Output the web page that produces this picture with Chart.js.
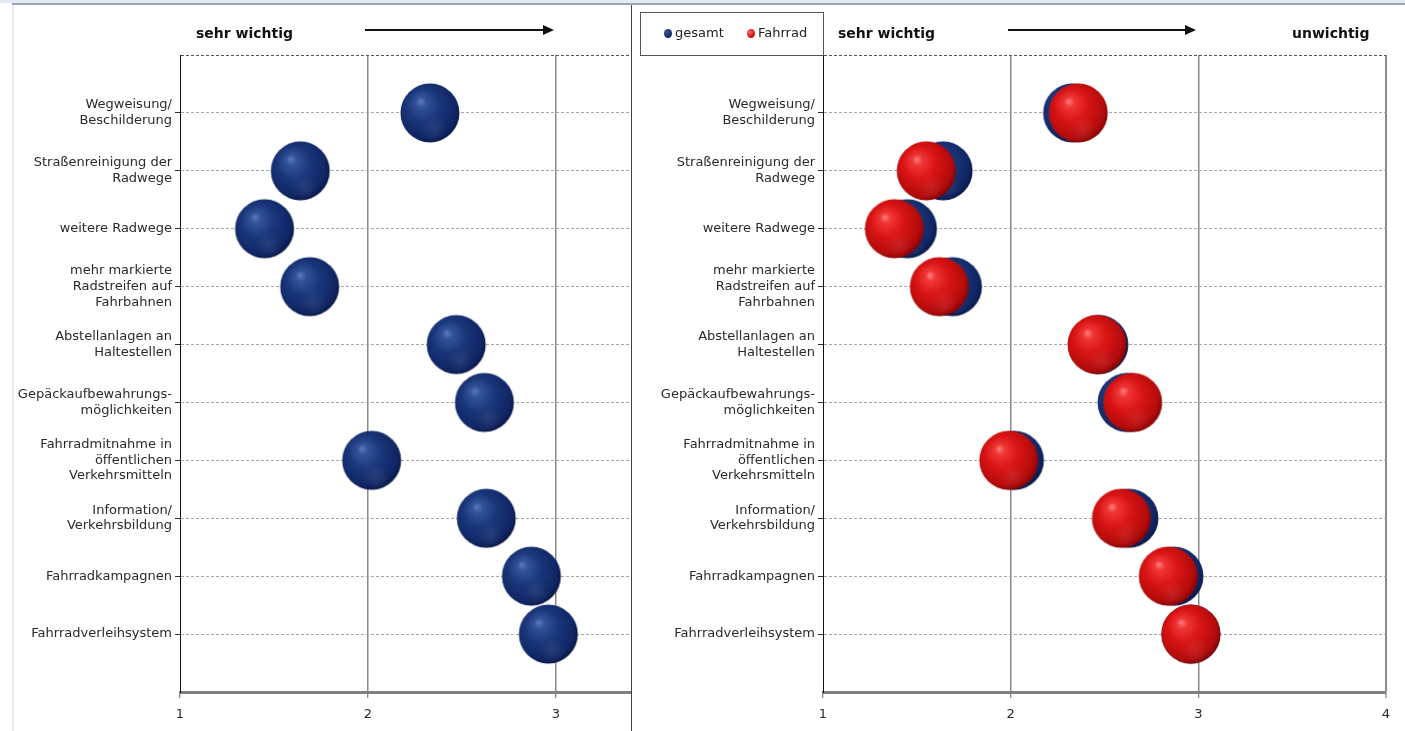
<!DOCTYPE html>
<html><head><meta charset="utf-8">
<script src="https://cdn.jsdelivr.net/npm/chart.js@4.4.0/dist/chart.umd.min.js"></script>
<style>
html,body{margin:0;padding:0;background:#fff;width:1405px;height:731px;overflow:hidden;font-family:"DejaVu Sans",sans-serif;}
#wrap{position:relative;width:1405px;height:731px;}
.abs{position:absolute;}
.title{position:absolute;font-weight:bold;font-size:14px;line-height:16px;color:#111;top:25px;white-space:nowrap;}
.leg{position:absolute;font-size:13px;line-height:16px;color:#222;top:25px;white-space:nowrap;}
.dot{position:absolute;width:8px;height:9px;border-radius:50%;top:29px;}
</style></head><body>
<div id="wrap">
  <div class="abs" style="left:0;top:0;width:1405px;height:3px;background:#e3eaf3"></div>
  <div class="abs" style="left:12px;top:3px;width:1393px;height:2px;background:#9aa6b6"></div>
  <div class="abs" style="left:12px;top:5px;width:2px;height:726px;background:#dfe8f3"></div>
  <canvas id="c1" class="abs" style="left:0;top:0" width="632" height="731"></canvas>
  <canvas id="c2" class="abs" style="left:640px;top:0" width="765" height="731"></canvas>
  <div class="abs" style="left:631px;top:5px;width:1px;height:726px;background:#444"></div>

  <div class="title" style="left:196px">sehr wichtig</div>
  <div class="title" style="left:838px">sehr wichtig</div>
  <div class="title" style="left:1292px">unwichtig</div>
  <svg class="abs" style="left:0;top:0" width="1405" height="60">
    <line x1="365" y1="30" x2="546" y2="30" stroke="#111" stroke-width="2"/>
    <polygon points="554,30 543,25 543,35" fill="#111"/>
    <line x1="1008" y1="30" x2="1188" y2="30" stroke="#111" stroke-width="2"/>
    <polygon points="1196,30 1185,25 1185,35" fill="#111"/>
  </svg>

  <div class="abs" style="left:640px;top:12px;width:182px;height:42px;border:1px solid #555;background:#fff"></div>
  <div class="dot" style="left:664px;background:radial-gradient(circle at 35% 35%,#3a5698,#122a62 60%,#0a1a45)"></div>
  <div class="leg" style="left:675px">gesamt</div>
  <div class="dot" style="left:747px;background:radial-gradient(circle at 35% 35%,#ff6a6a,#d41010 60%,#8a0000)"></div>
  <div class="leg" style="left:758px">Fahrrad</div>
</div>
<script>
// ---- data ----
const categories = [
  ["Wegweisung/", "Beschilderung"],
  ["Straßenreinigung der", "Radwege"],
  "weitere Radwege",
  ["mehr markierte", "Radstreifen auf", "Fahrbahnen"],
  ["Abstellanlagen an", "Haltestellen"],
  ["Gepäckaufbewahrungs-", "möglichkeiten"],
  ["Fahrradmitnahme in", "öffentlichen", "Verkehrsmitteln"],
  ["Information/", "Verkehrsbildung"],
  "Fahrradkampagnen",
  "Fahrradverleihsystem"
];
const gesamt  = [2.33, 1.64, 1.45, 1.69, 2.47, 2.62, 2.02, 2.63, 2.87, 2.96];
const fahrrad = [2.36, 1.55, 1.38, 1.62, 2.46, 2.65, 1.99, 2.59, 2.84, 2.96];
const xTicks = [1, 2, 3, 4];
const seriesNames = ["gesamt", "Fahrrad"];

// ---- sphere markers ----
function sphere(stops) {
  const s = 62, r = 29.5;
  const c = document.createElement('canvas');
  c.width = s; c.height = s;
  const g = c.getContext('2d');
  const cx = s / 2, cy = s / 2;
  const grad = g.createRadialGradient(cx - r * 0.33, cy - r * 0.4, 0, cx - r * 0.1, cy - r * 0.1, r * 1.25);
  stops.forEach(([o, col]) => grad.addColorStop(o, col));
  g.beginPath(); g.arc(cx, cy, r, 0, Math.PI * 2); g.fillStyle = grad; g.fill();
  const g2 = g.createRadialGradient(cx + r * 0.15, cy + r * 0.55, 0, cx + r * 0.15, cy + r * 0.55, r * 0.45);
  g2.addColorStop(0, 'rgba(255,255,255,0.08)'); g2.addColorStop(1, 'rgba(255,255,255,0)');
  g.fillStyle = g2; g.beginPath(); g.arc(cx, cy, r, 0, Math.PI * 2); g.fill();
  return c;
}
const blueBall = sphere([[0, '#5f7dbd'], [0.14, '#34539a'], [0.45, '#1a377a'], [0.8, '#112766'], [1, '#061035']]);
const redBall  = sphere([[0, '#ff8080'], [0.14, '#f03636'], [0.45, '#da1414'], [0.8, '#b40c0c'], [1, '#6a0000']]);

const toPts = arr => arr.map((v, i) => ({ x: v, y: i + 1 }));

Chart.defaults.font.family = "'DejaVu Sans', sans-serif";
Chart.defaults.font.size = 13;
Chart.defaults.color = '#2a2a2a';

function yScale(width) {
  return {
    type: 'linear', min: 0, max: 11, reverse: true,
    afterFit: s => { s.width = width; },
    afterBuildTicks: s => { s.ticks = Array.from({ length: 12 }, (_, i) => ({ value: i })); },
    ticks: {
      padding: 3, autoSkip: false,
      callback: v => (v >= 1 && v <= categories.length) ? categories[v - 1] : ''
    },
    grid: {
      color: c => c.tick.value === 0 ? '#555' : (c.tick.value === 11 ? 'rgba(0,0,0,0)' : '#a8a8a8'),
      lineWidth: 1,
      tickLength: 5,
      tickColor: c => (c.tick.value === 0 || c.tick.value === 11) ? 'rgba(0,0,0,0)' : '#333'
    },
    border: { display: true, color: '#111', width: 1, dash: [3, 2] }
  };
}
function xScale(max) {
  return {
    type: 'linear', min: 1, max: max,
    afterFit: s => { s.height = 39; },
    afterBuildTicks: s => { s.ticks = xTicks.filter(t => t <= max).map(v => ({ value: v })); },
    ticks: { padding: 9, callback: v => String(v) },
    grid: {
      color: c => c.tick.value === 1 ? 'rgba(0,0,0,0)' : '#8a8a8a',
      lineWidth: c => c.tick.value === 4 ? 2 : 1.5,
      tickLength: 6, tickColor: '#666', tickWidth: 1
    },
    border: { display: true, color: '#808080', width: 3 }
  };
}
const common = {
  responsive: false, animation: false,
  plugins: { legend: { display: false }, tooltip: { enabled: false } },
  events: []
};
const pointOpts = { pointRadius: 1, hoverRadius: 0, pointBorderWidth: 0, clip: false };

new Chart(document.getElementById('c1'), {
  type: 'scatter',
  data: { datasets: [Object.assign({ label: seriesNames[0], data: toPts(gesamt), pointStyle: blueBall }, pointOpts)] },
  options: Object.assign({}, common, {
    layout: { padding: { top: 55, right: 0, left: 0, bottom: 0 } },
    scales: { x: xScale(3.40), y: yScale(180) }
  })
});

new Chart(document.getElementById('c2'), {
  type: 'scatter',
  data: { datasets: [
    Object.assign({ label: seriesNames[0], data: toPts(gesamt), pointStyle: blueBall, order: 1 }, pointOpts),
    Object.assign({ label: seriesNames[1], data: toPts(fahrrad), pointStyle: redBall, order: 0 }, pointOpts)
  ] },
  options: Object.assign({}, common, {
    layout: { padding: { top: 55, right: 19, left: 0, bottom: 0 } },
    scales: { x: xScale(4), y: yScale(183) }
  })
});
</script>
</body></html>
